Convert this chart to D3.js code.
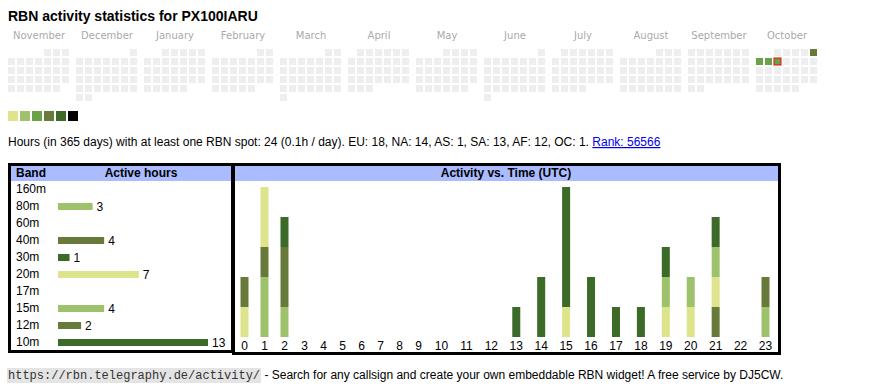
<!DOCTYPE html>
<html>
<head>
  <script src="https://d3js.org/d3.v7.min.js"></script>
  <style>
    body { margin: 0; background: #fff; }
    text { font-family: "Liberation Sans", Arial, sans-serif; }
  </style>
</head>
<body>
<div id="chart"></div>
<script>
// ---- data ----
var callsign = "PX100IARU";
var firstMonth = "2024-11-01";
var lastMonth = "2025-10-01";
var today = "2025-10-08";

// days with RBN spots and the hours heard that day
var activeDays = ["2025-10-05", "2025-10-06", "2025-10-07", "2025-10-08"];
var activeDayHours = [9, 5, 5, 5];

var levelLimits = [1, 2, 4, 6, 10, 16];
var levelColors = ["#eeeeee", "#dde48b", "#9dc26b", "#6aa24a", "#677a39", "#3c6a28", "#000000"];

var summaryText = "Hours (in 365 days) with at least one RBN spot: 24 (0.1h / day). EU: 18, NA: 14, AS: 1, SA: 13, AF: 12, OC: 1. ";
var rankText = "Rank: 56566";

var bands = ["160m", "80m", "60m", "40m", "30m", "20m", "17m", "15m", "12m", "10m"];
var bandHours = [0, 3, 0, 4, 1, 7, 0, 4, 2, 13];
var bandColors = ["#000000", "#9dc26b", "#6aa24a", "#677a39", "#3c6a28", "#dde48b", "#6aa24a", "#9dc26b", "#677a39", "#3c6a28"];

var hourLabels = ["0","1","2","3","4","5","6","7","8","9","10","11","12","13","14","15","16","17","18","19","20","21","22","23"];
// active hours per UTC hour, one array per band
var h160 = [0,0,0,0,0,0,0,0,0,0,0,0,0,0,0,0,0,0,0,0,0,0,0,0];
var h80  = [0,2,1,0,0,0,0,0,0,0,0,0,0,0,0,0,0,0,0,0,0,0,0,0];
var h60  = [0,0,0,0,0,0,0,0,0,0,0,0,0,0,0,0,0,0,0,0,0,0,0,0];
var h40  = [0,1,2,0,0,0,0,0,0,0,0,0,0,0,0,0,0,0,0,0,0,1,0,0];
var h30  = [0,0,1,0,0,0,0,0,0,0,0,0,0,0,0,0,0,0,0,0,0,0,0,0];
var h20  = [1,2,0,0,0,0,0,0,0,0,0,0,0,0,0,1,0,0,0,1,1,1,0,0];
var h17  = [0,0,0,0,0,0,0,0,0,0,0,0,0,0,0,0,0,0,0,0,0,0,0,0];
var h15  = [0,0,0,0,0,0,0,0,0,0,0,0,0,0,0,0,0,0,0,1,1,1,0,1];
var h12  = [1,0,0,0,0,0,0,0,0,0,0,0,0,0,0,0,0,0,0,0,0,0,0,1];
var h10  = [0,0,0,0,0,0,0,0,0,0,0,0,0,1,2,4,2,1,1,1,0,1,0,0];
var hourlyByBand = [h160, h80, h60, h40, h30, h20, h17, h15, h12, h10];

var footerLink = "https://rbn.telegraphy.de/activity/";
var footerText = "\u00a0- Search for any callsign and create your own embeddable RBN widget! A free service by DJ5CW.";

// ---- svg ----
var svg = d3.select("#chart").append("svg")
  .attr("width", 870)
  .attr("height", 390);

svg.append("text")
  .attr("x", 8)
  .attr("y", 21)
  .style("font-size", "14px")
  .style("font-weight", "bold")
  .text("RBN activity statistics for " + callsign);

// ---- calendar ----
var parseDay = d3.timeParse("%Y-%m-%d");
var dayKey = d3.timeFormat("%Y-%m-%d");
var months = d3.timeMonths(parseDay(firstMonth), d3.timeMonth.offset(parseDay(lastMonth), 1));

var hoursByDay = {};
activeDays.forEach(function(d, i) { hoursByDay[d] = activeDayHours[i]; });

var level = d3.scaleThreshold().domain(levelLimits).range(levelColors);
var monthX = d3.scaleLinear().domain([0, months.length - 1]).range([8, 756]);
var cellStep = 9, cellSize = 7, calTop = 49;

var monthG = svg.selectAll(".month")
  .data(months)
  .enter()
  .append("g")
  .attr("class", "month")
  .attr("transform", function(d, i) { return "translate(" + monthX(i) + "," + calTop + ")"; });

monthG.append("text")
  .attr("x", 31)
  .attr("y", -10)
  .style("text-anchor", "middle")
  .style("font-family", "'DejaVu Sans', Verdana, sans-serif")
  .style("font-size", "10px")
  .style("fill", "#aaa")
  .text(d3.timeFormat("%B"));

monthG.selectAll(".day")
  .data(function(m) {
    var offset = (m.getDay() + 6) % 7;
    return d3.timeDays(m, d3.timeMonth.offset(m, 1)).map(function(d) {
      var idx = offset + d.getDate() - 1;
      return { key: dayKey(d), col: idx % 7, row: Math.floor(idx / 7) };
    });
  })
  .enter()
  .append("rect")
  .attr("class", "day")
  .attr("x", function(d) { return d.col * cellStep; })
  .attr("y", function(d) { return d.row * cellStep; })
  .attr("width", cellSize)
  .attr("height", cellSize)
  .attr("fill", function(d) { return level(hoursByDay[d.key] || 0); })
  .attr("stroke", function(d) { return d.key === today ? "#ff0000" : "none"; })
  .attr("stroke-width", 1);

// level legend
svg.selectAll(".legendBox")
  .data(levelColors.slice(1))
  .enter()
  .append("rect")
  .attr("class", "legendBox")
  .attr("x", function(d, i) { return 8 + i * 12; })
  .attr("y", 111)
  .attr("width", 10)
  .attr("height", 10)
  .attr("fill", function(d) { return d; });

// summary line
var summary = svg.append("text")
  .attr("x", 8)
  .attr("y", 146)
  .style("font-size", "12px");
summary.append("tspan").text(summaryText);
summary.append("tspan")
  .style("fill", "#0000ee")
  .style("text-decoration", "underline")
  .text(rankText);

// ---- band table ----
svg.append("rect")
  .attr("x", 9.5).attr("y", 164.5)
  .attr("width", 223).attr("height", 187)
  .attr("fill", "#fff").attr("stroke", "#000").attr("stroke-width", 3);
svg.append("rect")
  .attr("x", 11).attr("y", 166)
  .attr("width", 220).attr("height", 15)
  .attr("fill", "#aabbff");
svg.append("text")
  .attr("x", 16).attr("y", 177)
  .style("font-size", "12px").style("font-weight", "bold")
  .text("Band");
svg.append("text")
  .attr("x", 141).attr("y", 177)
  .style("font-size", "12px").style("font-weight", "bold")
  .style("text-anchor", "middle")
  .text("Active hours");

var bandY = d3.scalePoint().domain(bands).range([189, 342]);
var bandX = d3.scaleLinear().domain([0, d3.max(bandHours)]).range([58, 208]);

var bandRow = svg.selectAll(".bandRow")
  .data(bands)
  .enter()
  .append("g")
  .attr("class", "bandRow")
  .attr("transform", function(d) { return "translate(0," + bandY(d) + ")"; });

bandRow.append("text")
  .attr("x", 16)
  .attr("y", 4)
  .style("font-size", "12px")
  .text(function(d) { return d; });

bandRow.filter(function(d, i) { return bandHours[i] > 0; })
  .each(function(d) {
    var i = bands.indexOf(d);
    var g = d3.select(this);
    g.append("rect")
      .attr("x", bandX(0))
      .attr("y", -3)
      .attr("width", bandX(bandHours[i]) - bandX(0))
      .attr("height", 7)
      .attr("fill", bandColors[i]);
    g.append("text")
      .attr("x", bandX(bandHours[i]) + 4)
      .attr("y", 5)
      .style("font-size", "12px")
      .text(bandHours[i]);
  });

// ---- activity vs time ----
svg.append("rect")
  .attr("x", 233.5).attr("y", 164.5)
  .attr("width", 546).attr("height", 189)
  .attr("fill", "#fff").attr("stroke", "#000").attr("stroke-width", 3);
svg.append("rect")
  .attr("x", 235).attr("y", 166)
  .attr("width", 543).attr("height", 15)
  .attr("fill", "#aabbff");
svg.append("text")
  .attr("x", 506).attr("y", 177)
  .style("font-size", "12px").style("font-weight", "bold")
  .style("text-anchor", "middle")
  .text("Activity vs. Time (UTC)");

var hourTable = hourLabels.map(function(h, i) {
  var row = { hour: i };
  bands.forEach(function(b, j) { row[b] = hourlyByBand[j][i]; });
  return row;
});
var stack = d3.stack().keys(bands)(hourTable);

// table-like columns: two-digit hours get wider cells
var hourX = d3.scaleLinear().domain([0, 3, 9, 10, 23]).range([244.5, 304.5, 418.5, 441.5, 765.5]);
var countY = d3.scaleLinear().domain([0, 5]).range([337, 187]);

svg.append("g")
  .selectAll("g")
  .data(stack)
  .enter()
  .append("g")
  .attr("fill", function(d, i) { return bandColors[i]; })
  .selectAll("rect")
  .data(function(d) { return d.filter(function(p) { return p[1] > p[0]; }); })
  .enter()
  .append("rect")
  .attr("x", function(d) { return hourX(d.data.hour) - 4; })
  .attr("y", function(d) { return countY(d[1]); })
  .attr("width", 8)
  .attr("height", function(d) { return countY(d[0]) - countY(d[1]); });

svg.selectAll(".hourLabel")
  .data(hourLabels)
  .enter()
  .append("text")
  .attr("class", "hourLabel")
  .attr("x", function(d, i) { return hourX(i); })
  .attr("y", 350)
  .style("font-size", "12px")
  .style("text-anchor", "middle")
  .text(function(d) { return d; });

// ---- footer ----
var linkBg = svg.append("rect")
  .attr("x", 7).attr("y", 368)
  .attr("height", 15)
  .attr("fill", "#e4e4e4");
var linkText = svg.append("text")
  .attr("x", 8)
  .attr("y", 379)
  .style("font-family", "'Liberation Mono', 'Courier New', monospace")
  .style("font-size", "12px")
  .style("fill", "#333")
  .text(footerLink);
var lw = linkText.node().getComputedTextLength();
linkBg.attr("width", lw + 2);
svg.append("text")
  .attr("x", 8 + lw + 1)
  .attr("y", 379)
  .style("font-size", "12px")
  .text(footerText);
</script>
</body>
</html>
